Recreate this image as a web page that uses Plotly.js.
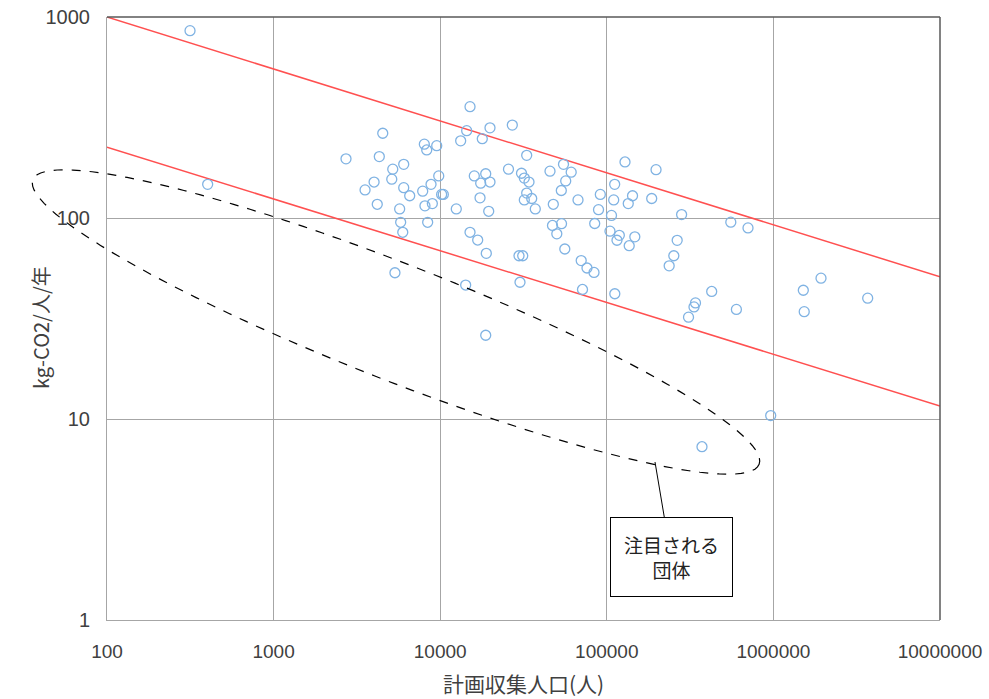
<!DOCTYPE html>
<html>
<head>
<meta charset="utf-8">
<script src="https://cdn.plot.ly/plotly-3.0.1.min.js"></script>
<style>html,body{margin:0;padding:0;background:#fff;}#chart{width:989px;height:699px;}</style>
</head>
<body>
<div id="chart"></div>
<script>
// 計画収集人口(人)
const population = [315,402,2720,3540,4010,4190,4310,4520,5120,5190,
  5350,5710,5790,5960,6040,6040,6560,7850,8030,8100,
  8300,8410,8810,8970,9530,9800,10200,10440,12490,13270,
  14220,14420,15100,15100,16020,16790,17340,17500,17890,18760,
  18760,18910,19550,19900,19900,27090,25700,30130,29720,31280,
  30760,31980,31980,33050,33050,34120,35420,37220,45610,47210,
  47740,50110,53330,53480,54970,55970,56670,61130,67170,70200,
  71470,76050,83800,84610,89190,91430,104500,106700,110000,111500,
  111700,115100,118900,128600,134500,136300,142700,147300,186000,197500,
  236800,252500,264500,281200,309400,333700,340700,426200,372700,555000,
  599700,703900,963400,1512000,1531000,1931000,3681000];
// kg-CO2/人/年
const co2PerCapita = [855,147,197,138,151,117,202,264,156,175,
  53.4,111,95.2,84.9,185,141.5,129,136,233,115,
  218,95.2,147,118,229,162,131,131,111,242,
  46.4,272,358,84.9,162,77.7,126,149,248,166,
  26.1,66.7,108,281,151,290,175,47.9,64.9,64.9,
  167,158,123,205,133,151,125,111,171,91.8,
  117,83.4,137,93.7,185,70.1,153,169,123,61.4,
  44.1,56.4,53.6,93.9,110,131,86,103,123,147,
  42.0,77.5,82.0,190,118,72.8,129,80.6,125,174,
  57.8,64.9,77.4,104,32.1,36.1,37.8,43.1,7.28,95.3,
  35.1,89.3,10.4,43.7,34.2,50.2,39.9];
// reference band lines
const bandX = [100, 10000000];
const upperBandY = [1000, 51];
const lowerBandY = [225, 11.6];
// ticks
const xTickVals = [100,1000,10000,100000,1000000,10000000];
const xTickText = ["100","1000","10000","100000","1000000","10000000"];
const yTickVals = [1,10,100,1000];
const yTickText = ["1","10","100","1000"];

const W = 989, H = 699;
const M = {l:107, r:49, t:17, b:79};
const pw = W - M.l - M.r, ph = H - M.t - M.b;
function px2paperX(px){ return (px - M.l) / pw; }
function px2paperY(py){ return (H - M.b - py) / ph; }

// dashed ellipse (annotation highlight) in pixel geometry
const ell = {cx:396, cy:322, a:390, b:58, rot:21.4};
function ellipsePath(){
  const th = ell.rot * Math.PI/180, c = Math.cos(th), s = Math.sin(th);
  let d = "";
  const N = 120;
  for (let i=0;i<=N;i++){
    const t = 2*Math.PI*i/N;
    const ex = ell.cx + ell.a*Math.cos(t)*c - ell.b*Math.sin(t)*s;
    const ey = ell.cy + ell.a*Math.cos(t)*s + ell.b*Math.sin(t)*c;
    d += (i===0?"M ":" L ") + px2paperX(ex).toFixed(5) + " " + px2paperY(ey).toFixed(5);
  }
  return d + " Z";
}

const traces = [
  {x: bandX, y: upperBandY, mode:'lines', line:{color:'#ff5050', width:1.5}, hoverinfo:'skip', showlegend:false},
  {x: bandX, y: lowerBandY, mode:'lines', line:{color:'#ff5050', width:1.5}, hoverinfo:'skip', showlegend:false},
  {x: population, y: co2PerCapita, mode:'markers', showlegend:false,
   marker:{symbol:'circle-open', size:10, color:'#80b3e3', line:{color:'#80b3e3', width:1.3}}}
];

const layout = {
  width: W, height: H,
  margin: M,
  paper_bgcolor:'#fff', plot_bgcolor:'#fff',
  showlegend:false,
  xaxis:{type:'log', range:[2,7], tickvals:xTickVals, ticktext:xTickText,
    showgrid:true, gridcolor:'#a6a6a6', gridwidth:1, zeroline:false,
    showline:true, linecolor:'#a6a6a6', linewidth:1, ticks:'', ticklabelstandoff:14,
    tickfont:{family:'"Liberation Sans", Arial, sans-serif', size:19, color:'#404040'},
    title:{text:'計画収集人口(人)', font:{family:'"Noto Sans CJK JP", sans-serif', size:21, color:'#404040'}, standoff:16}},
  yaxis:{type:'log', range:[0,3], tickvals:yTickVals, ticktext:yTickText,
    showgrid:true, gridcolor:'#a6a6a6', gridwidth:1, zeroline:false,
    showline:true, linecolor:'#a6a6a6', linewidth:1, ticks:'', ticklabelstandoff:12,
    tickfont:{family:'"Liberation Sans", Arial, sans-serif', size:20, color:'#404040'},
    title:{text:''}},
  shapes:[
    {type:'line', xref:'paper', yref:'paper', x0:0, x1:1, y0:1, y1:1, line:{color:'#595959', width:1.5}},
    {type:'line', xref:'paper', yref:'paper', x0:1, x1:1, y0:0, y1:1, line:{color:'#595959', width:1.5}},
    {type:'path', xref:'paper', yref:'paper', path: ellipsePath(), line:{color:'#000', width:1.2, dash:'dash'}}
  ],
  annotations:[
    {xref:'paper', yref:'paper', x:px2paperX(40), y:px2paperY(328), textangle:-90,
     text:'kg-CO2/人/年', showarrow:false, xanchor:'center', yanchor:'middle',
     font:{family:'"Noto Sans CJK JP", sans-serif', size:20, color:'#404040'}},
    {xref:'paper', yref:'paper', x:px2paperX(655), y:px2paperY(462),
     text:'注目される<br>団体', showarrow:true, arrowhead:0, arrowwidth:1, arrowcolor:'#000',
     ax:16, ay:95, axref:'pixel', ayref:'pixel',
     bordercolor:'#000', borderwidth:1, borderpad:4, bgcolor:'#fff',
     width:113, height:70, align:'center',
     font:{family:'"Noto Sans CJK JP", sans-serif', size:19, color:'#222'}}
  ]
};
Plotly.newPlot('chart', traces, layout, {displayModeBar:false, staticPlot:true});
</script>
</body>
</html>
